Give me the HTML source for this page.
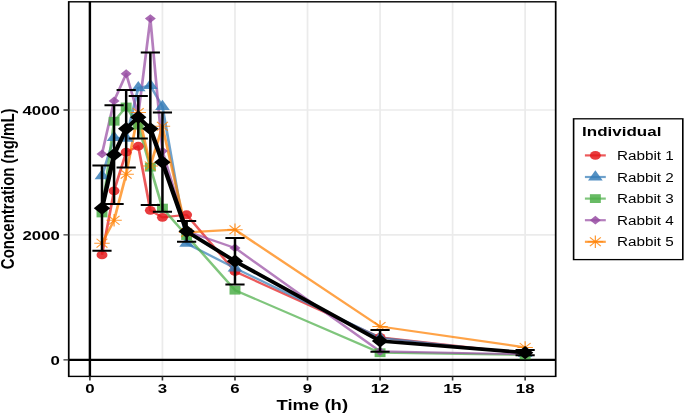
<!DOCTYPE html>
<html><head><meta charset="utf-8"><style>
html,body{margin:0;padding:0;background:#fff;}
body{width:685px;height:414px;overflow:hidden;}
svg text{font-family:"Liberation Sans", sans-serif;}
svg{will-change:transform;}
</style></head><body>
<svg width="685" height="414" viewBox="0 0 552 414" preserveAspectRatio="none" style="display:block">
<rect x="0" y="0" width="552" height="414" fill="#fff"/>
<line x1="130.9" y1="1.8" x2="130.9" y2="376.4" stroke="#EBEBEB" stroke-width="1.4"/>
<line x1="189.36" y1="1.8" x2="189.36" y2="376.4" stroke="#EBEBEB" stroke-width="1.4"/>
<line x1="247.81" y1="1.8" x2="247.81" y2="376.4" stroke="#EBEBEB" stroke-width="1.4"/>
<line x1="306.27" y1="1.8" x2="306.27" y2="376.4" stroke="#EBEBEB" stroke-width="1.4"/>
<line x1="364.72" y1="1.8" x2="364.72" y2="376.4" stroke="#EBEBEB" stroke-width="1.4"/>
<line x1="423.18" y1="1.8" x2="423.18" y2="376.4" stroke="#EBEBEB" stroke-width="1.4"/>
<line x1="55.4" y1="234.95" x2="447.8" y2="234.95" stroke="#EBEBEB" stroke-width="1.7"/>
<line x1="55.4" y1="110" x2="447.8" y2="110" stroke="#EBEBEB" stroke-width="1.7"/>
<line x1="72.44" y1="1.8" x2="72.44" y2="376.4" stroke="#000" stroke-width="1.95"/>
<line x1="55.4" y1="359.9" x2="447.8" y2="359.9" stroke="#000" stroke-width="2.4"/>
<polyline points="82.19,254.94 91.93,190.84 101.67,152.17 111.42,146.24 121.16,210.33 130.9,217.33 150.39,214.77 189.36,271.5 306.27,337.41 423.18,353.65" fill="none" stroke="rgba(228,26,28,0.72)" stroke-width="2.2" stroke-linejoin="round"/>
<polyline points="82.19,175.91 91.93,137.49 101.67,138.43 111.42,87.82 121.16,85.63 130.9,106.56 150.39,243.45 189.36,268.12 306.27,337.72 423.18,353.65" fill="none" stroke="rgba(55,126,184,0.72)" stroke-width="2.2" stroke-linejoin="round"/>
<polyline points="82.19,212.96 91.93,121.25 101.67,107 111.42,125.18 121.16,167.16 130.9,208.09 150.39,235.57 189.36,290.18 306.27,352.72 423.18,354.9" fill="none" stroke="rgba(77,175,74,0.72)" stroke-width="2.2" stroke-linejoin="round"/>
<polyline points="82.19,153.92 91.93,100.88 101.67,73.76 111.42,115 121.16,18.54 130.9,151.11 150.39,231.2 189.36,247.94 306.27,351.4 423.18,354.28" fill="none" stroke="rgba(152,78,163,0.72)" stroke-width="2.2" stroke-linejoin="round"/>
<polyline points="82.19,243.13 91.93,220.33 101.67,174.29 111.42,112.5 121.16,165.92 130.9,126.37 150.39,232.45 189.36,229.7 306.27,326.48 423.18,347.4" fill="none" stroke="rgba(255,127,0,0.72)" stroke-width="2.2" stroke-linejoin="round"/>
<circle cx="82.19" cy="254.94" r="4.4" fill="rgba(228,26,28,0.85)"/>
<circle cx="91.93" cy="190.84" r="4.4" fill="rgba(228,26,28,0.85)"/>
<circle cx="101.67" cy="152.17" r="4.4" fill="rgba(228,26,28,0.85)"/>
<circle cx="111.42" cy="146.24" r="4.4" fill="rgba(228,26,28,0.85)"/>
<circle cx="121.16" cy="210.33" r="4.4" fill="rgba(228,26,28,0.85)"/>
<circle cx="130.9" cy="217.33" r="4.4" fill="rgba(228,26,28,0.85)"/>
<circle cx="150.39" cy="214.77" r="4.4" fill="rgba(228,26,28,0.85)"/>
<circle cx="189.36" cy="271.5" r="4.4" fill="rgba(228,26,28,0.85)"/>
<circle cx="306.27" cy="337.41" r="4.4" fill="rgba(228,26,28,0.85)"/>
<circle cx="423.18" cy="353.65" r="4.4" fill="rgba(228,26,28,0.85)"/>
<polygon points="82.19,169.07 88.11,179.33 76.26,179.33" fill="rgba(55,126,184,0.85)"/>
<polygon points="91.93,130.65 97.86,140.91 86,140.91" fill="rgba(55,126,184,0.85)"/>
<polygon points="101.67,131.58 107.6,141.85 95.75,141.85" fill="rgba(55,126,184,0.85)"/>
<polygon points="111.42,80.98 117.34,91.24 105.49,91.24" fill="rgba(55,126,184,0.85)"/>
<polygon points="121.16,78.79 127.08,89.06 115.23,89.06" fill="rgba(55,126,184,0.85)"/>
<polygon points="130.9,99.72 136.83,109.99 124.97,109.99" fill="rgba(55,126,184,0.85)"/>
<polygon points="150.39,236.6 156.31,246.87 144.46,246.87" fill="rgba(55,126,184,0.85)"/>
<polygon points="189.36,261.28 195.28,271.55 183.43,271.55" fill="rgba(55,126,184,0.85)"/>
<polygon points="306.27,330.88 312.19,341.14 300.34,341.14" fill="rgba(55,126,184,0.85)"/>
<polygon points="423.18,346.81 429.1,357.07 417.25,357.07" fill="rgba(55,126,184,0.85)"/>
<rect x="77.79" y="208.56" width="8.8" height="8.8" fill="rgba(77,175,74,0.85)"/>
<rect x="87.53" y="116.85" width="8.8" height="8.8" fill="rgba(77,175,74,0.85)"/>
<rect x="97.27" y="102.6" width="8.8" height="8.8" fill="rgba(77,175,74,0.85)"/>
<rect x="107.02" y="120.78" width="8.8" height="8.8" fill="rgba(77,175,74,0.85)"/>
<rect x="116.76" y="162.76" width="8.8" height="8.8" fill="rgba(77,175,74,0.85)"/>
<rect x="126.5" y="203.69" width="8.8" height="8.8" fill="rgba(77,175,74,0.85)"/>
<rect x="145.99" y="231.17" width="8.8" height="8.8" fill="rgba(77,175,74,0.85)"/>
<rect x="184.96" y="285.78" width="8.8" height="8.8" fill="rgba(77,175,74,0.85)"/>
<rect x="301.87" y="348.32" width="8.8" height="8.8" fill="rgba(77,175,74,0.85)"/>
<rect x="418.78" y="350.5" width="8.8" height="8.8" fill="rgba(77,175,74,0.85)"/>
<polygon points="82.19,149.52 86.59,153.92 82.19,158.32 77.79,153.92" fill="rgba(152,78,163,0.85)"/>
<polygon points="91.93,96.48 96.33,100.88 91.93,105.28 87.53,100.88" fill="rgba(152,78,163,0.85)"/>
<polygon points="101.67,69.36 106.07,73.76 101.67,78.16 97.27,73.76" fill="rgba(152,78,163,0.85)"/>
<polygon points="111.42,110.6 115.82,115 111.42,119.4 107.02,115" fill="rgba(152,78,163,0.85)"/>
<polygon points="121.16,14.14 125.56,18.54 121.16,22.94 116.76,18.54" fill="rgba(152,78,163,0.85)"/>
<polygon points="130.9,146.71 135.3,151.11 130.9,155.51 126.5,151.11" fill="rgba(152,78,163,0.85)"/>
<polygon points="150.39,226.8 154.79,231.2 150.39,235.6 145.99,231.2" fill="rgba(152,78,163,0.85)"/>
<polygon points="189.36,243.54 193.76,247.94 189.36,252.34 184.96,247.94" fill="rgba(152,78,163,0.85)"/>
<polygon points="306.27,347 310.67,351.4 306.27,355.8 301.87,351.4" fill="rgba(152,78,163,0.85)"/>
<polygon points="423.18,349.88 427.58,354.28 423.18,358.68 418.78,354.28" fill="rgba(152,78,163,0.85)"/>
<path d="M77.79 238.73L86.59 247.53M77.79 247.53L86.59 238.73M75.97 243.13L88.41 243.13M82.19 236.91L82.19 249.36" stroke="rgba(255,127,0,0.8)" stroke-width="1.0" fill="none"/>
<path d="M87.53 215.93L96.33 224.73M87.53 224.73L96.33 215.93M85.71 220.33L98.15 220.33M91.93 214.11L91.93 226.55" stroke="rgba(255,127,0,0.8)" stroke-width="1.0" fill="none"/>
<path d="M97.27 169.89L106.07 178.69M97.27 178.69L106.07 169.89M95.45 174.29L107.9 174.29M101.67 168.06L101.67 180.51" stroke="rgba(255,127,0,0.8)" stroke-width="1.0" fill="none"/>
<path d="M107.02 108.1L115.82 116.9M107.02 116.9L115.82 108.1M105.19 112.5L117.64 112.5M111.42 106.28L111.42 118.72" stroke="rgba(255,127,0,0.8)" stroke-width="1.0" fill="none"/>
<path d="M116.76 161.52L125.56 170.32M116.76 170.32L125.56 161.52M114.94 165.92L127.38 165.92M121.16 159.69L121.16 172.14" stroke="rgba(255,127,0,0.8)" stroke-width="1.0" fill="none"/>
<path d="M126.5 121.97L135.3 130.77M126.5 130.77L135.3 121.97M124.68 126.37L137.12 126.37M130.9 120.15L130.9 132.59" stroke="rgba(255,127,0,0.8)" stroke-width="1.0" fill="none"/>
<path d="M145.99 228.05L154.79 236.85M145.99 236.85L154.79 228.05M144.16 232.45L156.61 232.45M150.39 226.23L150.39 238.67" stroke="rgba(255,127,0,0.8)" stroke-width="1.0" fill="none"/>
<path d="M184.96 225.3L193.76 234.1M184.96 234.1L193.76 225.3M183.13 229.7L195.58 229.7M189.36 223.48L189.36 235.92" stroke="rgba(255,127,0,0.8)" stroke-width="1.0" fill="none"/>
<path d="M301.87 322.08L310.67 330.88M301.87 330.88L310.67 322.08M300.04 326.48L312.49 326.48M306.27 320.25L306.27 332.7" stroke="rgba(255,127,0,0.8)" stroke-width="1.0" fill="none"/>
<path d="M418.78 343L427.58 351.8M418.78 351.8L427.58 343M416.96 347.4L429.4 347.4M423.18 341.18L423.18 353.63" stroke="rgba(255,127,0,0.8)" stroke-width="1.0" fill="none"/>
<polyline points="82.19,208.15 91.93,154.67 101.67,128.68 111.42,117.18 121.16,128.74 130.9,162.17 150.39,231.33 189.36,261.19 306.27,340.97 423.18,352.65" fill="none" stroke="#000" stroke-width="3.6" stroke-linejoin="round"/>
<path d="M82.19 165.6V250.69M74.45 165.6H89.92M74.45 250.69H89.92M91.93 105.31V204.02M84.19 105.31H99.67M84.19 204.02H99.67M101.67 89.88V167.48M93.94 89.88H109.41M93.94 167.48H109.41M111.42 95.94V138.43M103.68 95.94H119.15M103.68 138.43H119.15M121.16 52.46V205.02M113.42 52.46H128.89M113.42 205.02H128.89M130.9 112.5V211.83M123.16 112.5H138.64M123.16 211.83H138.64M150.39 220.89V241.76M142.65 220.89H158.12M142.65 241.76H158.12M189.36 237.89V284.49M181.62 237.89H197.09M181.62 284.49H197.09M306.27 330.1V351.84M298.53 330.1H314M298.53 351.84H314M423.18 350.09V355.21M415.44 350.09H430.91M415.44 355.21H430.91" stroke="#000" stroke-width="2.0" fill="none"/>
<polygon points="82.19,201.55 88.79,208.15 82.19,214.75 75.59,208.15" fill="#000"/>
<polygon points="91.93,148.07 98.53,154.67 91.93,161.27 85.33,154.67" fill="#000"/>
<polygon points="101.67,122.08 108.27,128.68 101.67,135.28 95.07,128.68" fill="#000"/>
<polygon points="111.42,110.58 118.02,117.18 111.42,123.78 104.82,117.18" fill="#000"/>
<polygon points="121.16,122.14 127.76,128.74 121.16,135.34 114.56,128.74" fill="#000"/>
<polygon points="130.9,155.57 137.5,162.17 130.9,168.77 124.3,162.17" fill="#000"/>
<polygon points="150.39,224.73 156.99,231.33 150.39,237.93 143.79,231.33" fill="#000"/>
<polygon points="189.36,254.59 195.96,261.19 189.36,267.79 182.76,261.19" fill="#000"/>
<polygon points="306.27,334.37 312.87,340.97 306.27,347.57 299.67,340.97" fill="#000"/>
<polygon points="423.18,346.05 429.78,352.65 423.18,359.25 416.58,352.65" fill="#000"/>
<rect x="55.4" y="1.8" width="392.4" height="374.6" fill="none" stroke="#000" stroke-width="1.4"/>
<path d="M72.44 376.4V380.4M130.9 376.4V380.4M189.36 376.4V380.4M247.81 376.4V380.4M306.27 376.4V380.4M364.72 376.4V380.4M423.18 376.4V380.4M51.13 359.9H55.4M51.13 234.95H55.4M51.13 110H55.4" stroke="#333" stroke-width="1.3" fill="none"/>
<text transform="translate(72.44,393.3) scale(1.005,1)" text-anchor="middle" font-size="13.5" font-weight="bold" fill="#000">0</text>
<text transform="translate(130.9,393.3) scale(1.005,1)" text-anchor="middle" font-size="13.5" font-weight="bold" fill="#000">3</text>
<text transform="translate(189.36,393.3) scale(1.005,1)" text-anchor="middle" font-size="13.5" font-weight="bold" fill="#000">6</text>
<text transform="translate(247.81,393.3) scale(1.005,1)" text-anchor="middle" font-size="13.5" font-weight="bold" fill="#000">9</text>
<text transform="translate(306.27,393.3) scale(1.005,1)" text-anchor="middle" font-size="13.5" font-weight="bold" fill="#000">12</text>
<text transform="translate(364.72,393.3) scale(1.005,1)" text-anchor="middle" font-size="13.5" font-weight="bold" fill="#000">15</text>
<text transform="translate(423.18,393.3) scale(1.005,1)" text-anchor="middle" font-size="13.5" font-weight="bold" fill="#000">18</text>
<text transform="translate(48.27,364.7) scale(1.005,1)" text-anchor="end" font-size="13.5" font-weight="bold" fill="#000">0</text>
<text transform="translate(48.27,239.75) scale(1.005,1)" text-anchor="end" font-size="13.5" font-weight="bold" fill="#000">2000</text>
<text transform="translate(48.27,114.8) scale(1.005,1)" text-anchor="end" font-size="13.5" font-weight="bold" fill="#000">4000</text>
<text x="251.66" y="409.7" text-anchor="middle" font-size="14.9" font-weight="bold" fill="#000">Time (h)</text>
<text transform="translate(11.52,188.8) rotate(-90)" x="0" y="0" text-anchor="middle" font-size="15.0" font-weight="bold" fill="#000">Concentration (ng/mL)</text>
<rect x="462.23" y="118.8" width="88" height="140.8" fill="#fff" stroke="#000" stroke-width="1.3"/>
<text x="469.08" y="136.1" font-size="13.7" font-weight="bold" fill="#000">Individual</text>
<line x1="471.34" y1="155.4" x2="488.18" y2="155.4" stroke="rgba(228,26,28,0.72)" stroke-width="2.2"/>
<circle cx="479.76" cy="155.4" r="4.4" fill="rgba(228,26,28,0.85)"/>
<text x="497.12" y="160" font-size="12.3" fill="#000">Rabbit 1</text>
<line x1="471.34" y1="177.0" x2="488.18" y2="177.0" stroke="rgba(55,126,184,0.72)" stroke-width="2.2"/>
<polygon points="479.76,170.16 485.68,180.42 473.83,180.42" fill="rgba(55,126,184,0.85)"/>
<text x="497.12" y="181.6" font-size="12.3" fill="#000">Rabbit 2</text>
<line x1="471.34" y1="198.6" x2="488.18" y2="198.6" stroke="rgba(77,175,74,0.72)" stroke-width="2.2"/>
<rect x="475.36" y="194.2" width="8.8" height="8.8" fill="rgba(77,175,74,0.85)"/>
<text x="497.12" y="203.2" font-size="12.3" fill="#000">Rabbit 3</text>
<line x1="471.34" y1="220.2" x2="488.18" y2="220.2" stroke="rgba(152,78,163,0.72)" stroke-width="2.2"/>
<polygon points="479.76,215.8 484.16,220.2 479.76,224.6 475.36,220.2" fill="rgba(152,78,163,0.85)"/>
<text x="497.12" y="224.8" font-size="12.3" fill="#000">Rabbit 4</text>
<line x1="471.34" y1="241.8" x2="488.18" y2="241.8" stroke="rgba(255,127,0,0.72)" stroke-width="2.2"/>
<path d="M475.36 237.4L484.16 246.2M475.36 246.2L484.16 237.4M473.53 241.8L485.98 241.8M479.76 235.58L479.76 248.02" stroke="rgba(255,127,0,0.8)" stroke-width="1.0" fill="none"/>
<text x="497.12" y="246.4" font-size="12.3" fill="#000">Rabbit 5</text>
</svg>
</body></html>
